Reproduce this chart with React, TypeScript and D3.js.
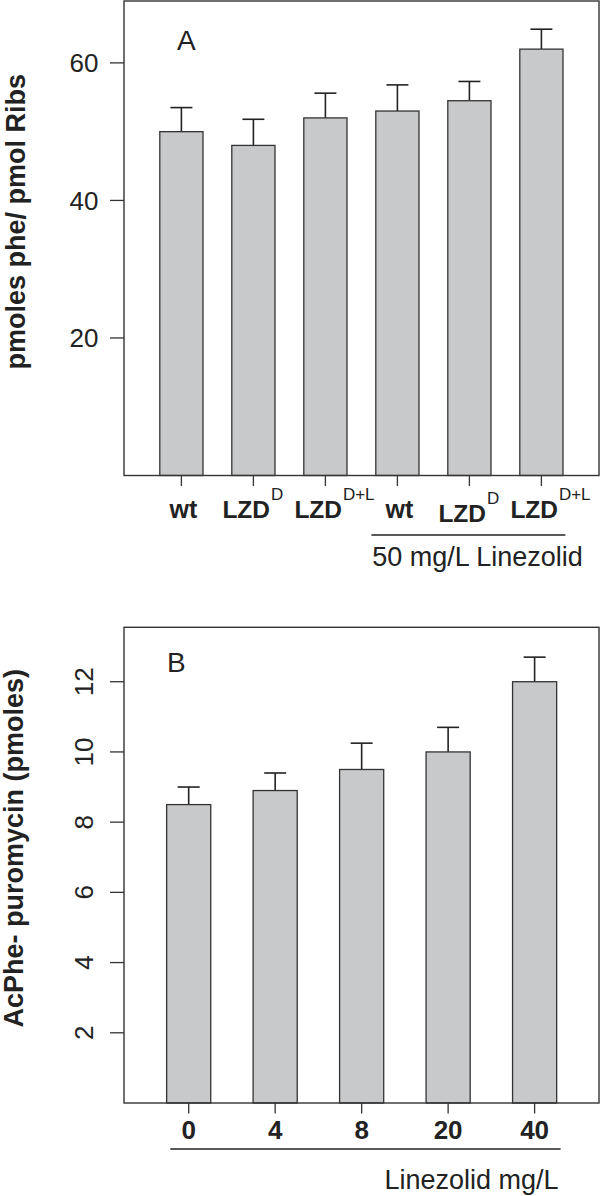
import React, { useEffect } from "react";
import * as d3 from "d3";

// Panel A: phe incorporation per ribosome
const groupsA = ["wt", "LZD", "LZD", "wt", "LZD", "LZD"];
const supsA = ["", "D", "D+L", "", "D", "D+L"];
const valuesA = [50, 48, 52, 53, 54.5, 62];
const errorsA = [3.5, 3.8, 3.6, 3.8, 2.8, 2.9];
const ticksA = [20, 40, 60];

// Panel B: AcPhe-puromycin vs linezolid dose
const dosesB = ["0", "4", "8", "20", "40"];
const valuesB = [8.5, 8.9, 9.5, 10.0, 12.0];
const errorsB = [0.5, 0.5, 0.75, 0.7, 0.7];
const ticksB = [2, 4, 6, 8, 10, 12];

const FONT = "'Liberation Sans', Arial, Helvetica, sans-serif";
const STROKE = "#333";
const BAR_FILL = "#c8c9cb";

const App = () => {
  useEffect(() => {
    document.body.style.margin = "0";
  }, []);

  const left = 124;
  const right = 599;

  // ----- panel A scales
  const xA = d3
    .scaleBand<number>()
    .domain(d3.range(valuesA.length))
    .range([145.4, 577.4])
    .paddingInner(0.4)
    .paddingOuter(0.2);
  const yA = d3.scaleLinear().domain([0, 69]).range([475.5, 1]);

  // ----- panel B scales
  const xB = d3
    .scaleBand<number>()
    .domain(d3.range(valuesB.length))
    .range([145.45, 577.85])
    .paddingInner(0.49)
    .paddingOuter(0.245);
  const yB = d3.scaleLinear().domain([0, 13.55]).range([1103, 627.3]);

  const bwA = xA.bandwidth();
  const bwB = xB.bandwidth();
  const cA = (i: number) => (xA(i) as number) + bwA / 2;
  const cB = (i: number) => (xB(i) as number) + bwB / 2;

  return (
    <svg width={600} height={1196} style={{ display: "block", fontFamily: FONT }}>
      <rect width={600} height={1196} fill="#fff" />

      {/* ================= Panel A ================= */}
      <g>
        {valuesA.map((v, i) => (
          <g key={"a" + i}>
            <line
              x1={cA(i)}
              x2={cA(i)}
              y1={yA(v)}
              y2={yA(v + errorsA[i])}
              stroke="#222"
              strokeWidth={1.6}
            />
            <line
              x1={cA(i) - 11}
              x2={cA(i) + 11}
              y1={yA(v + errorsA[i])}
              y2={yA(v + errorsA[i])}
              stroke="#222"
              strokeWidth={1.6}
            />
            <rect
              x={xA(i)}
              y={yA(v)}
              width={bwA}
              height={yA(0) - yA(v)}
              fill={BAR_FILL}
              stroke={STROKE}
              strokeWidth={1.3}
            />
          </g>
        ))}
        <rect
          x={left}
          y={yA.range()[1]}
          width={right - left}
          height={yA(0) - yA.range()[1]}
          fill="none"
          stroke={STROKE}
          strokeWidth={1.4}
        />
        {ticksA.map((t) => (
          <g key={"ta" + t}>
            <line x1={left - 14} x2={left} y1={yA(t)} y2={yA(t)} stroke={STROKE} strokeWidth={1.3} />
            <text x={98.5} y={yA(t)} dy="0.36em" textAnchor="end" fontSize={26} fill="#222">
              {t}
            </text>
          </g>
        ))}
        {groupsA.map((g, i) => {
          const drop = i === 4 ? 4 : 0;
          return (
            <g key={"xa" + i}>
              <line x1={cA(i)} x2={cA(i)} y1={yA(0)} y2={yA(0) + 10.5} stroke={STROKE} strokeWidth={1.3} />
              {supsA[i] === "" ? (
                <text x={cA(i) + 2} y={517.5} textAnchor="middle" fontSize={25} fontWeight="bold" fill="#222">
                  {g}
                </text>
              ) : (
                <>
                  <text x={cA(i) - 31} y={518 + drop} textAnchor="start" fontSize={24.5} fontWeight="bold" fill="#222">
                    {g}
                  </text>
                  <text x={cA(i) + 17.5} y={500 + drop} textAnchor="start" fontSize={17} fill="#222">
                    {supsA[i]}
                  </text>
                </>
              )}
            </g>
          );
        })}
        <line x1={cA(3) - 26} x2={cA(5) + 24} y1={535} y2={535} stroke="#222" strokeWidth={1.5} />
        <text x={477.5} y={566} textAnchor="middle" fontSize={27} fill="#222">
          50 mg/L Linezolid
        </text>
        <text x={177} y={49.5} fontSize={28} fill="#222">
          A
        </text>
        <text
          transform={`translate(25, ${221.7}) rotate(-90)`}
          textAnchor="middle"
          fontSize={27}
          fontWeight="bold"
          fill="#222"
        >
          pmoles phe/ pmol Ribs
        </text>
      </g>

      {/* ================= Panel B ================= */}
      <g>
        {valuesB.map((v, i) => (
          <g key={"b" + i}>
            <line
              x1={cB(i)}
              x2={cB(i)}
              y1={yB(v)}
              y2={yB(v + errorsB[i])}
              stroke="#222"
              strokeWidth={1.6}
            />
            <line
              x1={cB(i) - 11}
              x2={cB(i) + 11}
              y1={yB(v + errorsB[i])}
              y2={yB(v + errorsB[i])}
              stroke="#222"
              strokeWidth={1.6}
            />
            <rect
              x={xB(i)}
              y={yB(v)}
              width={bwB}
              height={yB(0) - yB(v)}
              fill={BAR_FILL}
              stroke={STROKE}
              strokeWidth={1.3}
            />
          </g>
        ))}
        <rect
          x={left}
          y={yB.range()[1]}
          width={right - left}
          height={yB(0) - yB.range()[1]}
          fill="none"
          stroke={STROKE}
          strokeWidth={1.4}
        />
        {ticksB.map((t) => (
          <g key={"tb" + t}>
            <line x1={left - 14} x2={left} y1={yB(t)} y2={yB(t)} stroke={STROKE} strokeWidth={1.3} />
            <text
              transform={`translate(93, ${yB(t)}) rotate(-90)`}
              textAnchor="middle"
              fontSize={26}
              fill="#222"
            >
              {t}
            </text>
          </g>
        ))}
        {dosesB.map((d, i) => (
          <g key={"xb" + i}>
            <line x1={cB(i)} x2={cB(i)} y1={yB(0)} y2={yB(0) + 10.5} stroke={STROKE} strokeWidth={1.3} />
            <text x={cB(i)} y={1139.3} textAnchor="middle" fontSize={26} fontWeight="bold" fill="#222">
              {d}
            </text>
          </g>
        ))}
        <line x1={cB(0) - 18.4} x2={cB(4) + 26} y1={1149} y2={1149} stroke="#222" strokeWidth={1.5} />
        <text x={471.5} y={1189} textAnchor="middle" fontSize={27} fill="#222">
          Linezolid mg/L
        </text>
        <text x={167} y={671.5} fontSize={28} fill="#222">
          B
        </text>
        <text
          transform={`translate(23, ${848.3}) rotate(-90)`}
          textAnchor="middle"
          fontSize={27}
          fontWeight="bold"
          fill="#222"
        >
          AcPhe- puromycin (pmoles)
        </text>
      </g>
    </svg>
  );
};

export default App;
